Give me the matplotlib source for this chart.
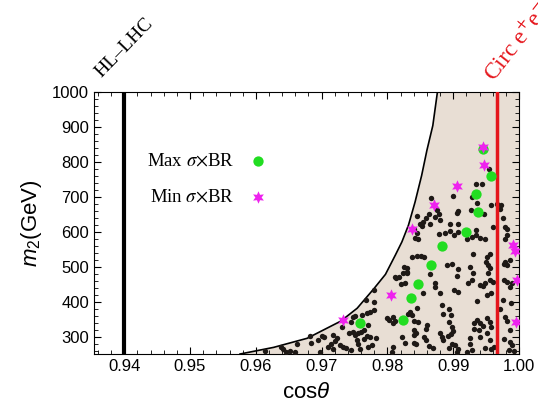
import matplotlib
matplotlib.use('Agg')
import matplotlib.pyplot as plt
import numpy as np
from matplotlib.ticker import MultipleLocator

# boundary of the allowed region
bound_x = [0.9576, 0.9627, 0.9678, 0.9729, 0.9754, 0.9779, 0.9797, 0.9812, 0.9822,
           0.9832, 0.9842, 0.9852, 0.9860, 0.9869, 0.9876]
bound_y = [250, 269, 295, 344, 381, 436, 478, 533, 571, 619, 685, 761, 833, 904, 1000]

# scan points
dots_x = [0.9614, 0.9638, 0.9641, 0.9646, 0.9652, 0.9659, 0.9663, 0.9683, 0.9684, 0.9694,
          0.9700, 0.9704, 0.9697, 0.9709, 0.9714, 0.9717, 0.9721, 0.9724, 0.9717, 0.9728,
          0.9733, 0.9737, 0.9731, 0.9744, 0.9748, 0.9751, 0.9741, 0.9748, 0.9751, 0.9756,
          0.9760, 0.9765, 0.9754, 0.9756, 0.9765, 0.9769, 0.9773, 0.9771, 0.9761, 0.9769,
          0.9774, 0.9779, 0.9768, 0.9779, 0.9779, 0.9783, 0.9777, 0.9771, 0.9744, 0.9759,
          0.9837, 0.9845, 0.9851, 0.9855, 0.9825, 0.9813, 0.9817, 0.9824, 0.9829, 0.9827,
          0.9820, 0.9864, 0.9872, 0.9873, 0.9880, 0.9854, 0.9845, 0.9835, 0.9837, 0.9832,
          0.9802, 0.9799, 0.9809, 0.9812, 0.9808, 0.9840, 0.9847, 0.9841, 0.9844, 0.9840,
          0.9860, 0.9858, 0.9822, 0.9827, 0.9840, 0.9844, 0.9855, 0.9858, 0.9863, 0.9869,
          0.9809, 0.9807, 0.9883, 0.9885, 0.9893, 0.9896, 0.9894, 0.9898, 0.9900, 0.9880,
          0.9883, 0.9885, 0.9892, 0.9897, 0.9898, 0.9893, 0.9903, 0.9908, 0.9906, 0.9891,
          0.9898, 0.9907, 0.9906, 0.9901, 0.9907, 0.9930, 0.9925, 0.9930, 0.9922, 0.9929,
          0.9941, 0.9946, 0.9936, 0.9931, 0.9936, 0.9941, 0.9932, 0.9939, 0.9926, 0.9925,
          0.9941, 0.9929, 0.9921, 0.9950, 0.9953, 0.9956, 0.9953, 0.9952, 0.9956, 0.9949,
          0.9956, 0.9960, 0.9951, 0.9958, 0.9951, 0.9956, 0.9958, 0.9946, 0.9951, 0.9956,
          0.9949, 0.9958, 0.9962, 0.9971, 0.9977, 0.9982, 0.9979, 0.9986, 0.9977, 0.9982,
          0.9989, 0.9986, 0.9976, 0.9988, 0.9979, 0.9982, 0.9987, 0.9977, 0.9986, 0.9989,
          0.9985, 0.9992, 0.9955, 0.9935, 0.9944, 0.9866, 0.9900, 0.9929, 0.9936, 0.9958,
          0.9966, 0.9972, 0.9971, 0.9907, 0.9905, 0.9927, 0.9947, 0.9876, 0.9878, 0.9873,
          0.9880, 0.9863, 0.9859, 0.9845, 0.9850, 0.9854, 0.9853, 0.9840, 0.9845, 0.9842,
          0.9847, 0.9865, 0.9895, 0.9907, 0.9888, 0.9895, 0.9907, 0.9935, 0.9935, 0.9961,
          0.9976, 0.9979, 0.9981, 0.9878, 0.9901, 0.9921, 0.9929, 0.9941, 0.9949, 0.9979,
          0.9982, 0.9829, 0.9829, 0.9812]
dots_y = [259, 271, 263, 257, 259, 257, 279, 301, 282, 290,
          303, 298, 256, 271, 278, 265, 288, 295, 304, 276,
          269, 266, 326, 342, 355, 359, 309, 314, 304, 309,
          314, 319, 290, 279, 292, 301, 298, 333, 361, 366,
          371, 376, 404, 398, 433, 295, 276, 269, 261, 263,
          528, 530, 530, 528, 499, 469, 471, 482, 482, 452,
          450, 479, 452, 442, 425, 425, 383, 371, 361, 364,
          347, 352, 357, 345, 340, 345, 342, 319, 311, 304,
          333, 323, 298, 282, 282, 280, 298, 290, 273, 266,
          269, 257, 390, 364, 378, 361, 342, 328, 317, 309,
          298, 290, 301, 307, 279, 266, 276, 263, 257, 504,
          507, 493, 473, 433, 428, 535, 499, 483, 454, 463,
          447, 444, 402, 338, 347, 340, 323, 319, 295, 280,
          300, 261, 257, 514, 504, 495, 482, 528, 537, 452,
          463, 457, 419, 425, 352, 342, 328, 330, 309, 290,
          266, 263, 271, 380, 509, 504, 514, 520, 461, 457,
          452, 442, 404, 395, 357, 345, 319, 292, 285, 276,
          261, 260, 780, 736, 738, 698, 701, 699, 681, 678,
          680, 676, 666, 659, 654, 663, 652, 663, 652, 642,
          635, 652, 640, 644, 621, 628, 616, 609, 597, 583,
          580, 621, 621, 621, 595, 602, 599, 590, 604, 614,
          638, 614, 609, 593, 590, 580, 585, 583, 580, 580,
          590, 495, 485, 471]

# Max / Min sigma x BR points
max_x = [0.9945, 0.9957, 0.9935, 0.9937, 0.9920, 0.9883, 0.9866, 0.9846, 0.9836, 0.9824, 0.9758]
max_y = [838, 761, 709, 657, 600, 559, 506, 450, 409, 347, 338]
min_x = [0.9945, 0.9947, 0.9906, 0.9871, 0.9838, 0.9991, 0.9994, 0.9997, 0.9806, 0.9995, 0.9732]
min_y = [843, 792, 730, 676, 607, 563, 544, 461, 419, 342, 347]

hl_lhc = 0.94
circ_ee = 0.9967

plt.rcParams['mathtext.fontset'] = 'custom'
plt.rcParams['mathtext.rm'] = 'Liberation Sans'
plt.rcParams['mathtext.it'] = 'Liberation Sans:italic'

fig = plt.figure(figsize=(5.38, 4.2), dpi=100)
ax = fig.add_axes([0.1747, 0.1571, 0.7900, 0.6238])

ax.fill_betweenx(bound_y, bound_x, 1.0, color='#e8ded4', lw=0, zorder=1)
ax.plot(bound_x, bound_y, color='k', lw=1.2, zorder=2)
ax.scatter(dots_x, dots_y, s=15, color='#1e1916', lw=0, zorder=3)

ax.axvline(hl_lhc, color='k', lw=3, zorder=4)
ax.axvline(circ_ee, color='#e5161c', lw=2.5, zorder=4)

ax.scatter(max_x, max_y, s=55, color='#22dd22', lw=0, zorder=5, label=r'Max $\sigma$$\times$BR')
ax.scatter(min_x, min_y, s=80, color='#ee22ee', marker=(6, 1, 0), lw=0, zorder=6,
           label=r'Min $\sigma$$\times$BR')

ax.set_xlim(0.9354, 1.0)
ax.set_ylim(250, 1000)
ax.xaxis.set_major_locator(MultipleLocator(0.01))
ax.xaxis.set_minor_locator(MultipleLocator(0.002))
ax.yaxis.set_major_locator(MultipleLocator(100))
ax.yaxis.set_minor_locator(MultipleLocator(20))
ax.set_xticks([0.94, 0.95, 0.96, 0.97, 0.98, 0.99, 1.00])
ax.set_xticklabels(['0.94', '0.95', '0.96', '0.97', '0.98', '0.99', '1.00'])
ax.set_yticks([300, 400, 500, 600, 700, 800, 900, 1000])
ax.tick_params(which='both', direction='in', top=True, right=True, labelsize=12)
ax.tick_params(which='major', length=5)
ax.tick_params(which='minor', length=3)
for t in ax.get_xticklabels() + ax.get_yticklabels():
    t.set_fontfamily('Liberation Sans')

ax.set_xlabel(r'cos$\theta$', fontsize=16, family='Liberation Sans', labelpad=6)
ax.set_ylabel(r'$m_2$(GeV)', fontsize=16, family='Liberation Sans', labelpad=6)

leg = ax.legend(loc='center left', bbox_to_anchor=(0.085, 0.668), markerfirst=False,
                frameon=False, labelspacing=1.0, handletextpad=0.75, handlelength=1.0,
                prop={'family': 'Liberation Serif', 'size': 13.5})
for t in leg.get_texts():
    t.set_math_fontfamily('stix')

ax.text(0.9365, 1040, 'HL\u2013LHC', rotation=46, rotation_mode='anchor', ha='left',
        va='baseline', fontsize=14, family='Liberation Serif', clip_on=False)
ax.text(0.9962, 1028, r'Circ e$^{+}$e$^{-}$', rotation=52, rotation_mode='anchor', ha='left',
        va='baseline', fontsize=17, family='Liberation Serif', color='#e5161c',
        math_fontfamily='stix', clip_on=False)

fig.savefig('out.png', dpi=100)
